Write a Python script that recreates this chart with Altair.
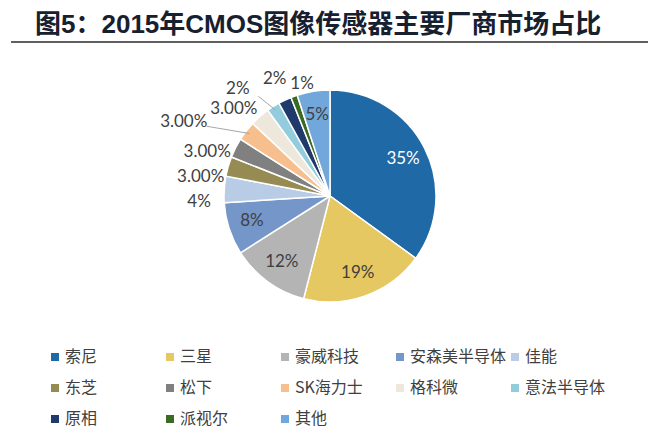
import altair as alt
import pandas as pd

# ---- data ----
names = ["索尼", "三星", "豪威科技", "安森美半导体", "佳能", "东芝", "松下",
         "SK海力士", "格科微", "意法半导体", "原相", "派视尔", "其他"]
shares = [35, 19, 12, 8, 4, 3, 3, 3, 3, 2, 2, 1, 5]
label_texts = ["35%", "19%", "12%", "8%", "4%", "3.00%", "3.00%", "3.00%",
               "3.00%", "2%", "2%", "1%", "5%"]
colors = ["#1f69a6", "#e6c863", "#b4b4b4", "#7596c9", "#b8cce6", "#968b52",
          "#808080", "#f8bf8e", "#eee7db", "#93cddd", "#213a6c", "#3b6a23",
          "#72a7db"]
title_text = "图5：2015年CMOS图像传感器主要厂商市场占比"

df = pd.DataFrame({
    "name": names,
    "share": shares,
    "label": label_texts,
    "idx": list(range(len(names))),
})

R = 106
W, H = 644, 276

base = alt.Chart(df)

pie = base.mark_arc(outerRadius=R, stroke="white", strokeWidth=1.5).encode(
    theta=alt.Theta("share:Q", stack=True),
    order=alt.Order("idx:Q"),
    color=alt.Color(
        "name:N",
        scale=alt.Scale(domain=names, range=colors),
        sort=names,
        legend=alt.Legend(
            title=None, orient="none", legendX=39, legendY=291,
            direction="horizontal", columns=5, gridAlign="all",
            columnPadding=0, rowPadding=15, symbolType="square",
            symbolSize=64, symbolStrokeWidth=0, labelOffset=2,
            labelFont="Noto Sans CJK SC", labelFontSize=16,
            labelColor="#404040", padding=0, labelLimit=200,
        ),
    ),
    tooltip=["name:N", "share:Q"],
)

cum = (
    base.transform_joinaggregate(total="sum(share)")
    .transform_window(cum="sum(share)", sort=[alt.SortField("idx")])
    .transform_calculate(mid="(datum.cum - datum.share / 2) / datum.total * 360")
)

inside = (
    cum.transform_filter("datum.share >= 5")
    .transform_calculate(rad="datum.mid * PI / 180", r="82")
    .mark_text(font="Lato", fontSize=17, baseline="middle", align="center")
    .encode(
        theta=alt.Theta("rad:Q", scale=None),
        radius=alt.Radius("r:Q", scale=None),
        text="label:N",
        color=alt.condition("datum.share >= 30", alt.value("white"), alt.value("#404040")),
    )
)

# outside labels: spread evenly over the crowded upper-left arc,
# staggering alternate labels outward where they would collide
outside_base = (
    cum.transform_filter("datum.share < 5")
    .transform_window(k="row_number()", sort=[alt.SortField("idx")])
    .transform_joinaggregate(n="count()", mn="min(mid)", mx="max(mid)")
    .transform_calculate(
        la="(datum.mn - 5.5) + (datum.k - 1) * ((datum.mx + 6) - (datum.mn - 5.5)) / (datum.n - 1)"
    )
    .transform_calculate(
        push="(datum.k == 4) ? 34 : ((datum.k == 6) ? 12 : ((datum.k == datum.n) ? -14 : 0))",
        rad="(datum.la - ((datum.k == 4 || datum.k == 6) ? 4 : 0)) * PI / 180",
        mrad="datum.mid * PI / 180",
    )
    .transform_calculate(r="131 + datum.push")
)

outside = outside_base.mark_text(
    font="Lato", fontSize=17, baseline="middle", align="center", color="#404040", dy=2
).encode(
    theta=alt.Theta("rad:Q", scale=None),
    radius=alt.Radius("r:Q", scale=None),
    text="label:N",
)

leaders = (
    outside_base.transform_filter("datum.push > 0")
    .transform_calculate(
        x1=f"{W/2} + {R - 4} * sin(datum.mrad)",
        y1=f"{H/2} - {R - 4} * cos(datum.mrad)",
        x2=f"{W/2} + (datum.r - 10) * sin(datum.rad) + 14",
        y2=f"{H/2} - (datum.r - 10) * cos(datum.rad) + 2",
    )
    .mark_rule(color="#a6a6a6", strokeWidth=1)
    .encode(
        x=alt.X("x1:Q", scale=None),
        y=alt.Y("y1:Q", scale=None),
        x2="x2:Q",
        y2="y2:Q",
    )
)

deco = pd.DataFrame({"t": [title_text]})
title = alt.Chart(deco).mark_text(
    align="left", baseline="alphabetic", fontSize=26, fontWeight="bold",
    font="Liberation Sans, Noto Sans CJK SC", color="#17202f",
).encode(x=alt.value(27), y=alt.value(-25), text="t:N")

underline = alt.Chart(deco).mark_rule(
    color="#2b2b2b", strokeWidth=1.5
).encode(x=alt.value(3), x2=alt.value(640), y=alt.value(-16))

chart = (
    alt.layer(pie, leaders, inside, outside, title, underline)
    .properties(
        width=W, height=H,
        autosize=alt.AutoSizeParams(type="none"),
        padding={"left": 0, "top": 50, "right": 0, "bottom": 101},
    )
    .configure_view(stroke=None)
)

chart.save("out.html", embed_options={"renderer": "svg", "actions": False})
